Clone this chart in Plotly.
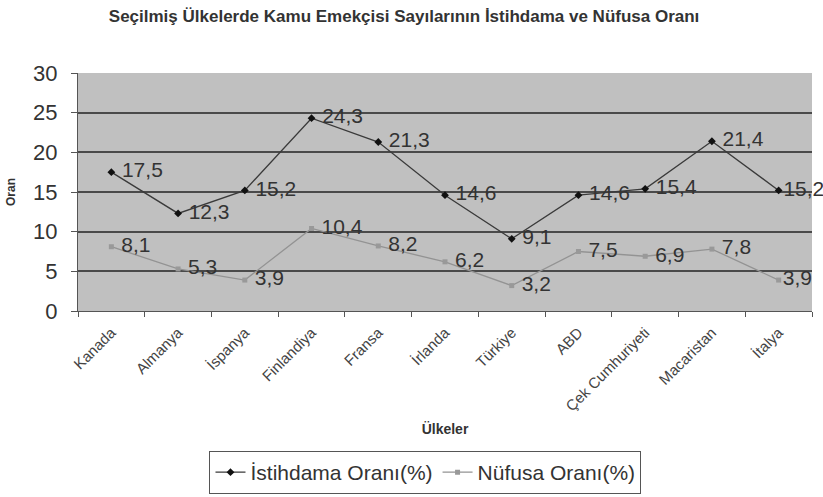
import plotly.graph_objects as go

countries = ["Kanada", "Almanya", "İspanya", "Finlandiya", "Fransa", "İrlanda",
             "Türkiye", "ABD", "Çek Cumhuriyeti", "Macaristan", "İtalya"]
istihdam = [17.5, 12.3, 15.2, 24.3, 21.3, 14.6, 9.1, 14.6, 15.4, 21.4, 15.2]
nufus = [8.1, 5.3, 3.9, 10.4, 8.2, 6.2, 3.2, 7.5, 6.9, 7.8, 3.9]

def labels(vals):
    out = []
    for i, v in enumerate(vals):
        s = f"{v:.1f}".replace(".", ",")
        out.append(s if i == len(vals) - 1 else " " + s)
    return out

font = "Liberation Sans, Arial, sans-serif"

fig = go.Figure()
fig.add_trace(go.Scatter(
    x=countries, y=istihdam, name="İstihdama Oranı(%)",
    mode="lines+markers+text",
    line=dict(color="#3a3a3a", width=1.3),
    marker=dict(symbol="diamond", size=6, color="#111111"),
    text=labels(istihdam), textposition="middle right",
    textfont=dict(size=21, color="#333333", family=font),
    cliponaxis=False,
))
fig.add_trace(go.Scatter(
    x=countries, y=nufus, name="Nüfusa Oranı(%)",
    mode="lines+markers+text",
    line=dict(color="#939393", width=1.3),
    marker=dict(symbol="square", size=5, color="#999999"),
    text=labels(nufus), textposition="middle right",
    textfont=dict(size=21, color="#333333", family=font),
    cliponaxis=False,
))

fig.update_layout(
    width=823, height=497,
    paper_bgcolor="white", plot_bgcolor="#c0c0c0",
    margin=dict(l=78, r=11, t=73, b=186),
    font=dict(family=font, color="#333333"),
    title=dict(text="<b>Seçilmiş Ülkelerde Kamu Emekçisi Sayılarının İstihdama ve Nüfusa Oranı</b>",
               x=0.491, xref="container", xanchor="center", y=0.98, yanchor="top",
               font=dict(size=17, color="#333333")),
    showlegend=True,
    legend=dict(orientation="h", xref="container", yref="container",
                x=0.517, xanchor="center", y=0.006, yanchor="bottom",
                bordercolor="#555555", borderwidth=1, bgcolor="white",
                font=dict(size=21, color="#333333"), itemwidth=30),
    xaxis=dict(
        type="category", tickson="boundaries", ticks="outside", ticklen=5,
        tickcolor="#555555", tickangle=-45, tickfont=dict(size=15, color="#444444"),
        ticklabelstandoff=6,
        showgrid=False, showline=True, linecolor="#555555", linewidth=1,
        title=dict(text="<b>Ülkeler</b>", font=dict(size=14), standoff=10),
        range=[-0.5, 10.5], automargin=False,
    ),
    yaxis=dict(
        range=[0, 30], dtick=5, ticks="outside", ticklen=6, tickcolor="#555555",
        tickfont=dict(size=22, color="#333333"), ticklabelstandoff=9,
        showgrid=True, gridcolor="#4a4a4a", gridwidth=2,
        showline=True, linecolor="#555555", linewidth=1, zeroline=False,
        title=dict(text="<b>Oran</b>", font=dict(size=12), standoff=14),
        automargin=False,
    ),
)

fig.write_html("out.html", config={"displayModeBar": False},
               post_script="document.body.style.margin='0px';")
